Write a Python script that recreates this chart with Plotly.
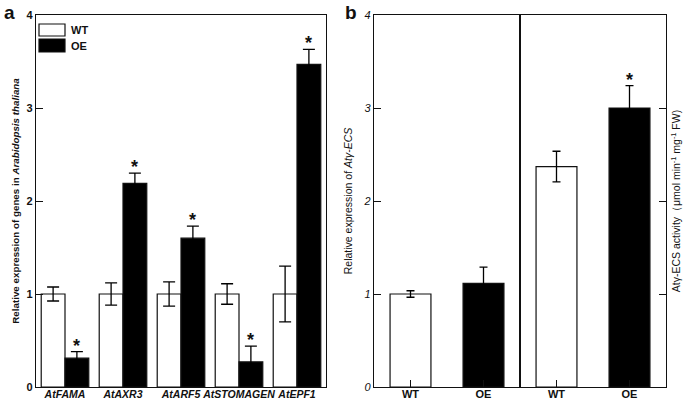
import plotly.graph_objects as go

# ---------------- data ----------------
genes = ["AtFAMA", "AtAXR3", "AtARF5", "AtSTOMAGEN", "AtEPF1"]
wt_expr = [1.0, 1.0, 1.0, 1.0, 1.0]
wt_err = [0.075, 0.12, 0.13, 0.11, 0.30]
oe_expr = [0.31, 2.19, 1.60, 0.27, 3.47]
oe_err = [0.07, 0.11, 0.13, 0.17, 0.16]
oe_sig = [True, True, True, True, True]

lines_b = ["WT", "OE"]
gecs_expr = [1.0, 1.115]
gecs_err = [0.035, 0.175]
gecs_act = [2.37, 3.0]
gecs_act_err = [0.165, 0.24]
act_sig = [False, True]

y_ticks = [0, 1, 2, 3, 4]

# ---------------- layout helpers ----------------
W, H = 685, 400
FONT = "Arial, Liberation Sans, sans-serif"
INK = "#111111"


def px_x(p):
    return p / W


def px_y(p):
    return 1 - p / H


top_px, bot_px = 15, 387
ydom = [px_y(bot_px), px_y(top_px)]

fig = go.Figure()

err_style = dict(type="data", color="black", thickness=1.3)

# Panel a
fig.add_trace(go.Bar(
    x=genes, y=wt_expr, name="WT", xaxis="x", yaxis="y",
    marker=dict(color="white", line=dict(color=INK, width=1.2)),
    error_y=dict(array=wt_err, width=6, **err_style),
    showlegend=False,
))
fig.add_trace(go.Bar(
    x=genes, y=oe_expr, name="OE", xaxis="x", yaxis="y",
    marker=dict(color="black", line=dict(color=INK, width=1.2)),
    error_y=dict(array=oe_err, width=6, **err_style),
    showlegend=False,
))

bargap_a = 0.18
bargap_b = 0.44
bw_b = 1 - bargap_b

# Panel b left: expression
fig.add_trace(go.Bar(
    x=lines_b, y=gecs_expr, xaxis="x2", yaxis="y2", width=bw_b,
    marker=dict(color=["white", "black"], line=dict(color=INK, width=1.2)),
    error_y=dict(array=gecs_err, width=4, **err_style),
    showlegend=False,
))
# Panel b right: activity
fig.add_trace(go.Bar(
    x=lines_b, y=gecs_act, xaxis="x3", yaxis="y3", width=bw_b,
    marker=dict(color=["white", "black"], line=dict(color=INK, width=1.2)),
    error_y=dict(array=gecs_act_err, width=4, **err_style),
    showlegend=False,
))

axis_line = dict(showline=True, linecolor=INK, linewidth=1.2, mirror=True,
                 showgrid=False, zeroline=False, automargin=False)
tick_in = dict(ticks="inside", ticklen=7, tickcolor=INK, tickwidth=1.2)

fig.update_layout(
    width=W, height=H,
    margin=dict(l=0, r=0, t=0, b=0),
    paper_bgcolor="white", plot_bgcolor="white",
    barmode="group", bargap=bargap_a, bargroupgap=0,
    font=dict(family=FONT, color=INK, size=11),
    xaxis=dict(domain=[px_x(36), px_x(326)], anchor="y", range=[-0.5, 4.5],
               tickmode="array", tickvals=genes, tickangle=0,
               ticktext=[f"<b><i>{g}</i></b>" for g in genes],
               ticks="", ticklabelstandoff=-3, tickfont=dict(size=10.5), **axis_line),
    yaxis=dict(domain=ydom, anchor="x", range=[0, 4],
               tickmode="array", tickvals=y_ticks,
               ticktext=[f"<b>{v}</b>" for v in y_ticks],
               tickfont=dict(size=11),
               title=dict(text="<b>Relative expression of genes in <i>Arabidopsis thaliana</i></b>",
                          font=dict(size=9.8), standoff=5),
               **tick_in, **axis_line),
    xaxis2=dict(domain=[px_x(374), px_x(520)], anchor="y2", range=[-0.5, 1.5],
                tickmode="array", tickvals=lines_b, tickangle=0,
                ticktext=[f"<b>{v}</b>" for v in lines_b], ticklabelstandoff=-3,
                tickfont=dict(size=11), **tick_in, **axis_line),
    yaxis2=dict(domain=ydom, anchor="x2", range=[0, 4],
                tickmode="array", tickvals=y_ticks,
                ticktext=[f"<i>{v}</i>" for v in y_ticks],
                tickfont=dict(size=11),
                title=dict(text="Relative expression of <i>Atγ-ECS</i>",
                           font=dict(size=10.5), standoff=8),
                **tick_in, **axis_line),
    xaxis3=dict(domain=[px_x(520), px_x(666)], anchor="y3", range=[-0.5, 1.5],
                tickmode="array", tickvals=lines_b, tickangle=0,
                ticktext=[f"<b>{v}</b>" for v in lines_b], ticklabelstandoff=-3,
                tickfont=dict(size=11), **tick_in, **axis_line),
    yaxis3=dict(domain=ydom, anchor="x3", range=[0, 4], side="right",
                tickmode="array", tickvals=y_ticks, showticklabels=False,
                title=dict(text="Atγ-ECS activity（μmol min<sup>-1</sup> mg<sup>-1</sup> FW)",
                           font=dict(size=10.5), standoff=6),
                **tick_in, **axis_line),
)

annotations = []
# significance stars panel a (OE bars sit right of category centre)
oe_off = (1 - bargap_a) / 4
for i, (v, e, s) in enumerate(zip(oe_expr, oe_err, oe_sig)):
    if s:
        annotations.append(dict(x=i + oe_off, y=v + e, xref="x", yref="y",
                                text="<b>*</b>", showarrow=False, yanchor="bottom",
                                yshift=-6, font=dict(size=18, color=INK)))
for i, (v, e, s) in enumerate(zip(gecs_act, gecs_act_err, act_sig)):
    if s:
        annotations.append(dict(x=i, y=v + e, xref="x3", yref="y3",
                                text="<b>*</b>", showarrow=False, yanchor="bottom",
                                yshift=-6, font=dict(size=18, color=INK)))

# legend for panel a
shapes = []
leg = [("WT", "white", 24, 36), ("OE", "black", 39, 52)]
for name, col, y0, y1 in leg:
    shapes.append(dict(type="rect", xref="paper", yref="paper",
                       x0=px_x(39), x1=px_x(65), y0=px_y(y1), y1=px_y(y0),
                       fillcolor=col, line=dict(color=INK, width=1.2)))
    annotations.append(dict(x=px_x(69), y=px_y((y0 + y1) / 2), xref="paper", yref="paper",
                            text=f"<b>{name}</b>", showarrow=False, xanchor="left",
                            yanchor="middle", font=dict(size=11, color=INK)))

# panel labels
annotations.append(dict(x=px_x(2), y=px_y(0), xref="paper", yref="paper", text="<b>a</b>",
                        showarrow=False, xanchor="left", yanchor="top",
                        font=dict(size=19, color=INK)))
annotations.append(dict(x=px_x(343), y=px_y(0), xref="paper", yref="paper", text="<b>b</b>",
                        showarrow=False, xanchor="left", yanchor="top",
                        font=dict(size=19, color=INK)))

fig.update_layout(annotations=annotations, shapes=shapes)

fig.write_html(
    "out.html",
    config={"displayModeBar": False},
    post_script="document.body.style.margin='0';document.body.style.overflow='hidden';",
)
